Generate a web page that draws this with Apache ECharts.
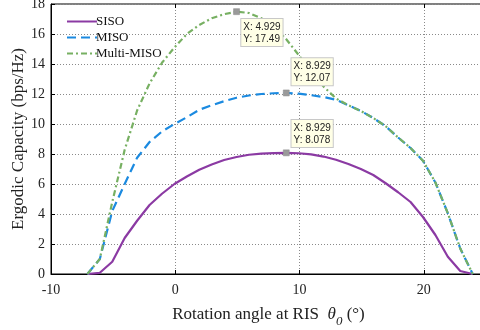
<!DOCTYPE html>
<html>
<head>
<meta charset="utf-8">
<script src="https://cdn.jsdelivr.net/npm/echarts@6/dist/echarts.min.js"></script>
<style>
  html, body { margin: 0; padding: 0; background: #fff; }
  #chart { width: 480px; height: 330px; }
</style>
</head>
<body>
<div id="chart"></div>
<script>
// rotation angle samples (deg)
const angles = [-7.071, -6.071, -5.071, -4.071, -3.071, -2.071, -1.071, -0.071, 0.929, 1.929,
  2.929, 3.929, 4.929, 5.929, 6.929, 7.929, 8.929, 9.929, 10.929, 11.929,
  12.929, 13.929, 14.929, 15.929, 16.929, 17.929, 18.929, 19.929, 20.929, 21.929,
  22.929, 23.929]

const siso = [0, 0.08, 0.82, 2.4, 3.55, 4.6, 5.35, 6.0, 6.5, 6.95,
  7.3, 7.6, 7.8, 7.95, 8.02, 8.06, 8.078, 8.05, 7.97, 7.83,
  7.62, 7.33, 7.0, 6.6, 6.05, 5.45, 4.8, 3.8, 2.6, 1.15,
  0.2, 0]

const miso = [0, 1.0, 4.2, 6.0, 7.75, 8.8, 9.5, 10.0, 10.45, 10.95,
  11.25, 11.52, 11.75, 11.9, 12.0, 12.05, 12.07, 12.02, 11.92, 11.8,
  11.62, 11.25, 10.87, 10.4, 9.85, 9.1, 8.4, 7.55, 6.1, 4.05,
  1.7, 0]

const multiMiso = [0, 1.0, 4.8, 8.28, 10.9, 12.7, 14.08, 15.1, 16.0, 16.6,
  17.05, 17.32, 17.49, 17.4, 17.05, 16.5, 15.65, 14.6, 13.5, 12.5,
  11.7, 11.25, 10.87, 10.4, 9.85, 9.1, 8.4, 7.55, 6.1, 4.05,
  1.7, 0]

const seriesNames = ['SISO', 'MISO', 'Multi-MISO']
const xTicks = [-10, 0, 10, 20]
const yTicks = [0, 2, 4, 6, 8, 10, 12, 14, 16, 18]

// data tips: [series index, sample index]
const tips = [[2, 12], [1, 16], [0, 16]]

const serif = '"Liberation Serif", "DejaVu Serif", serif'
const chart = echarts.init(document.getElementById('chart'))

const allData = [siso, miso, multiMiso]
const pairs = allData.map(ys => angles.map((x, i) => [x, ys[i]]))

// label offsets for the data tip boxes (relative to the marker box)
const tipPos = [[8, 10.5], [8.5, -31.5], [8.5, -29.5]]

function tipFor(s) {
  const out = []
  tips.forEach((t, k) => {
    if (t[0] !== s) return
    const x = angles[t[1]]
    const y = allData[s][t[1]]
    out.push({
      coord: [x, y],
      label: {
        position: tipPos[k],
        formatter: 'X: ' + x + '\nY: ' + y
      }
    })
  })
  return out
}

const markStyle = {
  symbol: 'rect',
  symbolSize: 6,
  itemStyle: { color: '#9a9a9a', borderColor: '#8a8a8a', borderWidth: 0.5 },
  label: {
    show: true,
    color: '#222',
    fontSize: 10,
    fontFamily: 'Arial, "Liberation Sans", sans-serif',
    lineHeight: 12,
    align: 'left',
    verticalAlign: 'top',
    backgroundColor: '#ffffe6',
    borderColor: '#c8c8c8',
    borderWidth: 1,
    padding: [2, 2, 1, 2]
  }
}

const colors = ['#8b3aa3', '#1b8ae0', '#77b062']
const dashes = ['solid', [9, 5], [6, 3, 2, 3]]

const option = {
  animation: false,
  grid: {
    left: 51,
    right: -6,
    top: 4,
    bottom: 56,
    outerBoundsMode: 'none',
    show: true,
    borderColor: '#000',
    borderWidth: 1,
    backgroundColor: 'transparent'
  },
  legend: {
    orient: 'vertical',
    left: 61,
    top: 10,
    itemWidth: 30,
    itemHeight: 12,
    itemGap: 3,
    itemStyle: { color: 'transparent', borderWidth: 0, opacity: 0 },
    textStyle: { fontFamily: serif, fontSize: 13, color: '#111', padding: [0, 0, 0, -6] },
    data: seriesNames
  },
  xAxis: [
    {
      type: 'value',
      min: -10,
      max: 25,
      interval: 10,
      name: 'Rotation angle at RIS  {i|θ}{s|0} (°)',
      nameLocation: 'middle',
      nameGap: 27,
      nameMoveOverlap: false,
      nameTextStyle: {
        fontFamily: serif,
        fontSize: 17,
        color: '#222',
        rich: {
          i: { fontFamily: serif, fontSize: 17, fontStyle: 'italic', color: '#222' },
          s: { fontFamily: serif, fontSize: 13, fontStyle: 'italic', color: '#222', padding: [14, 0, 0, 0] }
        }
      },
      axisLine: { show: true, onZero: false, lineStyle: { color: '#000', width: 1 } },
      axisTick: { show: true, inside: true, length: 4, lineStyle: { color: '#000' } },
      axisLabel: {
        fontFamily: serif, fontSize: 14, color: '#222', margin: 9,
        formatter: v => (xTicks.indexOf(v) >= 0 ? String(v) : '')
      },
      splitLine: { show: true, lineStyle: { color: '#8a8a8a', type: [1, 2], width: 1 } }
    },
    {
      type: 'value',
      position: 'top',
      min: -10,
      max: 25,
      interval: 10,
      axisLine: { show: false, onZero: false },
      axisTick: { show: true, inside: true, length: 4, lineStyle: { color: '#000' } },
      axisLabel: { show: false },
      splitLine: { show: false }
    }
  ],
  yAxis: {
    type: 'value',
    min: 0,
    max: 18,
    interval: 2,
    name: 'Ergodic Capacity (bps/Hz)',
    nameLocation: 'middle',
    nameGap: 24,
    nameMoveOverlap: false,
    nameTextStyle: { fontFamily: serif, fontSize: 17, color: '#222' },
    axisLine: { show: true, onZero: false, lineStyle: { color: '#000', width: 1 } },
    axisTick: { show: true, inside: true, length: 4, lineStyle: { color: '#000' } },
    axisLabel: {
      fontFamily: serif, fontSize: 14, color: '#222', margin: 6,
      formatter: v => (yTicks.indexOf(v) >= 0 ? String(v) : '')
    },
    splitLine: { show: true, lineStyle: { color: '#8a8a8a', type: [1, 2], width: 1 } }
  },
  series: seriesNames.map((name, s) => ({
    name: name,
    type: 'line',
    data: pairs[s],
    symbol: 'none',
    color: colors[s],
    lineStyle: { color: colors[s], width: 2.2, type: dashes[s] },
    z: 2 + s,
    markPoint: Object.assign({}, markStyle, { data: tipFor(s) })
  }))
}

chart.setOption(option)
</script>
</body>
</html>
